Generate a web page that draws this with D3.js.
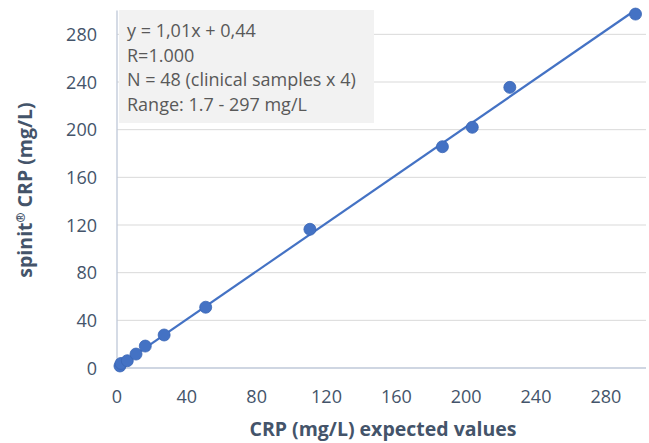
<!DOCTYPE html>
<html>
<head>
<meta charset="utf-8">
<script src="https://cdn.jsdelivr.net/npm/d3@7.9.0/dist/d3.min.js"></script>
<style>
  body { margin: 0; background: #fff; }
  text { font-family: "Open Sans", "Noto Sans", sans-serif; }
</style>
</head>
<body>
<svg width="649" height="443"></svg>
<script>
// expected values (x) vs spinit measured values (y)
const expected = [1.7, 2.3, 5.9, 10.9, 16.2, 27, 50.8, 110.5, 186.4, 203.5, 225, 297];
const measured = [1.7, 3.8, 6.1, 11.7, 18.4, 27.7, 51, 116.4, 185.7, 202, 235.5, 297];
const xTicks = [0, 40, 80, 120, 160, 200, 240, 280];
const yTicks = [0, 40, 80, 120, 160, 200, 240, 280];
const fitSlope = 1.01;
const fitIntercept = 0.44;
const statsLines = [
  'y = 1,01x + 0,44',
  'R=1.000',
  'N = 48 (clinical samples x 4)',
  'Range: 1.7 - 297 mg/L'
];

const svg = d3.select('svg');
const blue = '#4472C4';
const textColor = '#44546A';

let x = d3.scaleLinear().domain([0, 303]).range([117, 646]);
let y = d3.scaleLinear().domain([0, 300]).range([368, 10.5]);

// gridlines
svg.append('g')
  .selectAll('line')
  .data(yTicks.filter(d => d > 0))
  .join('line')
  .attr('x1', x(0)).attr('x2', x(303))
  .attr('y1', d => y(d)).attr('y2', d => y(d))
  .attr('stroke', '#D9D9D9')
  .attr('stroke-width', 1);

// axis lines
svg.append('line')
  .attr('x1', x(0)).attr('x2', x(303))
  .attr('y1', y(0)).attr('y2', y(0))
  .attr('stroke', '#BFC8D8').attr('stroke-width', 1.3);
svg.append('line')
  .attr('x1', x(0)).attr('x2', x(0))
  .attr('y1', y(0)).attr('y2', y(300))
  .attr('stroke', '#BFC8D8').attr('stroke-width', 1.3);

// tick labels
svg.append('g')
  .selectAll('text')
  .data(xTicks)
  .join('text')
  .attr('x', d => x(d))
  .attr('y', 403)
  .attr('text-anchor', 'middle')
  .attr('font-size', 18)
  .attr('fill', textColor)
  .text(d => d);

svg.append('g')
  .selectAll('text')
  .data(yTicks)
  .join('text')
  .attr('x', 97)
  .attr('y', d => y(d) + 6.5)
  .attr('text-anchor', 'end')
  .attr('font-size', 18)
  .attr('fill', textColor)
  .text(d => d);

// axis titles
svg.append('text')
  .attr('x', 383)
  .attr('y', 436)
  .attr('text-anchor', 'middle')
  .attr('font-size', 19.5)
  .attr('font-weight', 'bold')
  .attr('fill', textColor)
  .text('CRP (mg/L) expected values');

let yTitle = svg.append('text')
  .attr('transform', 'translate(32,190) rotate(-90)')
  .attr('text-anchor', 'middle')
  .attr('font-size', 19.5)
  .attr('font-weight', 'bold')
  .attr('fill', textColor);
yTitle.append('tspan').text('spinit');
yTitle.append('tspan').attr('font-size', 12).attr('dy', -7).text('®');
yTitle.append('tspan').attr('dy', 7).text(' CRP (mg/L)');

// trend line
svg.append('line')
  .attr('x1', x(d3.min(expected)))
  .attr('y1', y(fitSlope * d3.min(expected) + fitIntercept))
  .attr('x2', x(d3.max(expected)))
  .attr('y2', y(fitSlope * d3.max(expected) + fitIntercept))
  .attr('stroke', blue)
  .attr('stroke-width', 2.2);

// points
svg.append('g')
  .selectAll('circle')
  .data(expected.map((d, i) => [d, measured[i]]))
  .join('circle')
  .attr('cx', d => x(d[0]))
  .attr('cy', d => y(d[1]))
  .attr('r', 6)
  .attr('fill', blue)
  .attr('stroke', '#3A66B5')
  .attr('stroke-width', 0.8);

// stats box
svg.append('rect')
  .attr('x', 119).attr('y', 10)
  .attr('width', 255).attr('height', 113)
  .attr('fill', '#F2F2F2');

svg.append('g')
  .selectAll('text')
  .data(statsLines)
  .join('text')
  .attr('x', 127)
  .attr('y', (d, i) => 37 + i * 24.5)
  .attr('font-size', 18)
  .attr('fill', '#595959')
  .text(d => d);
</script>
</body>
</html>
